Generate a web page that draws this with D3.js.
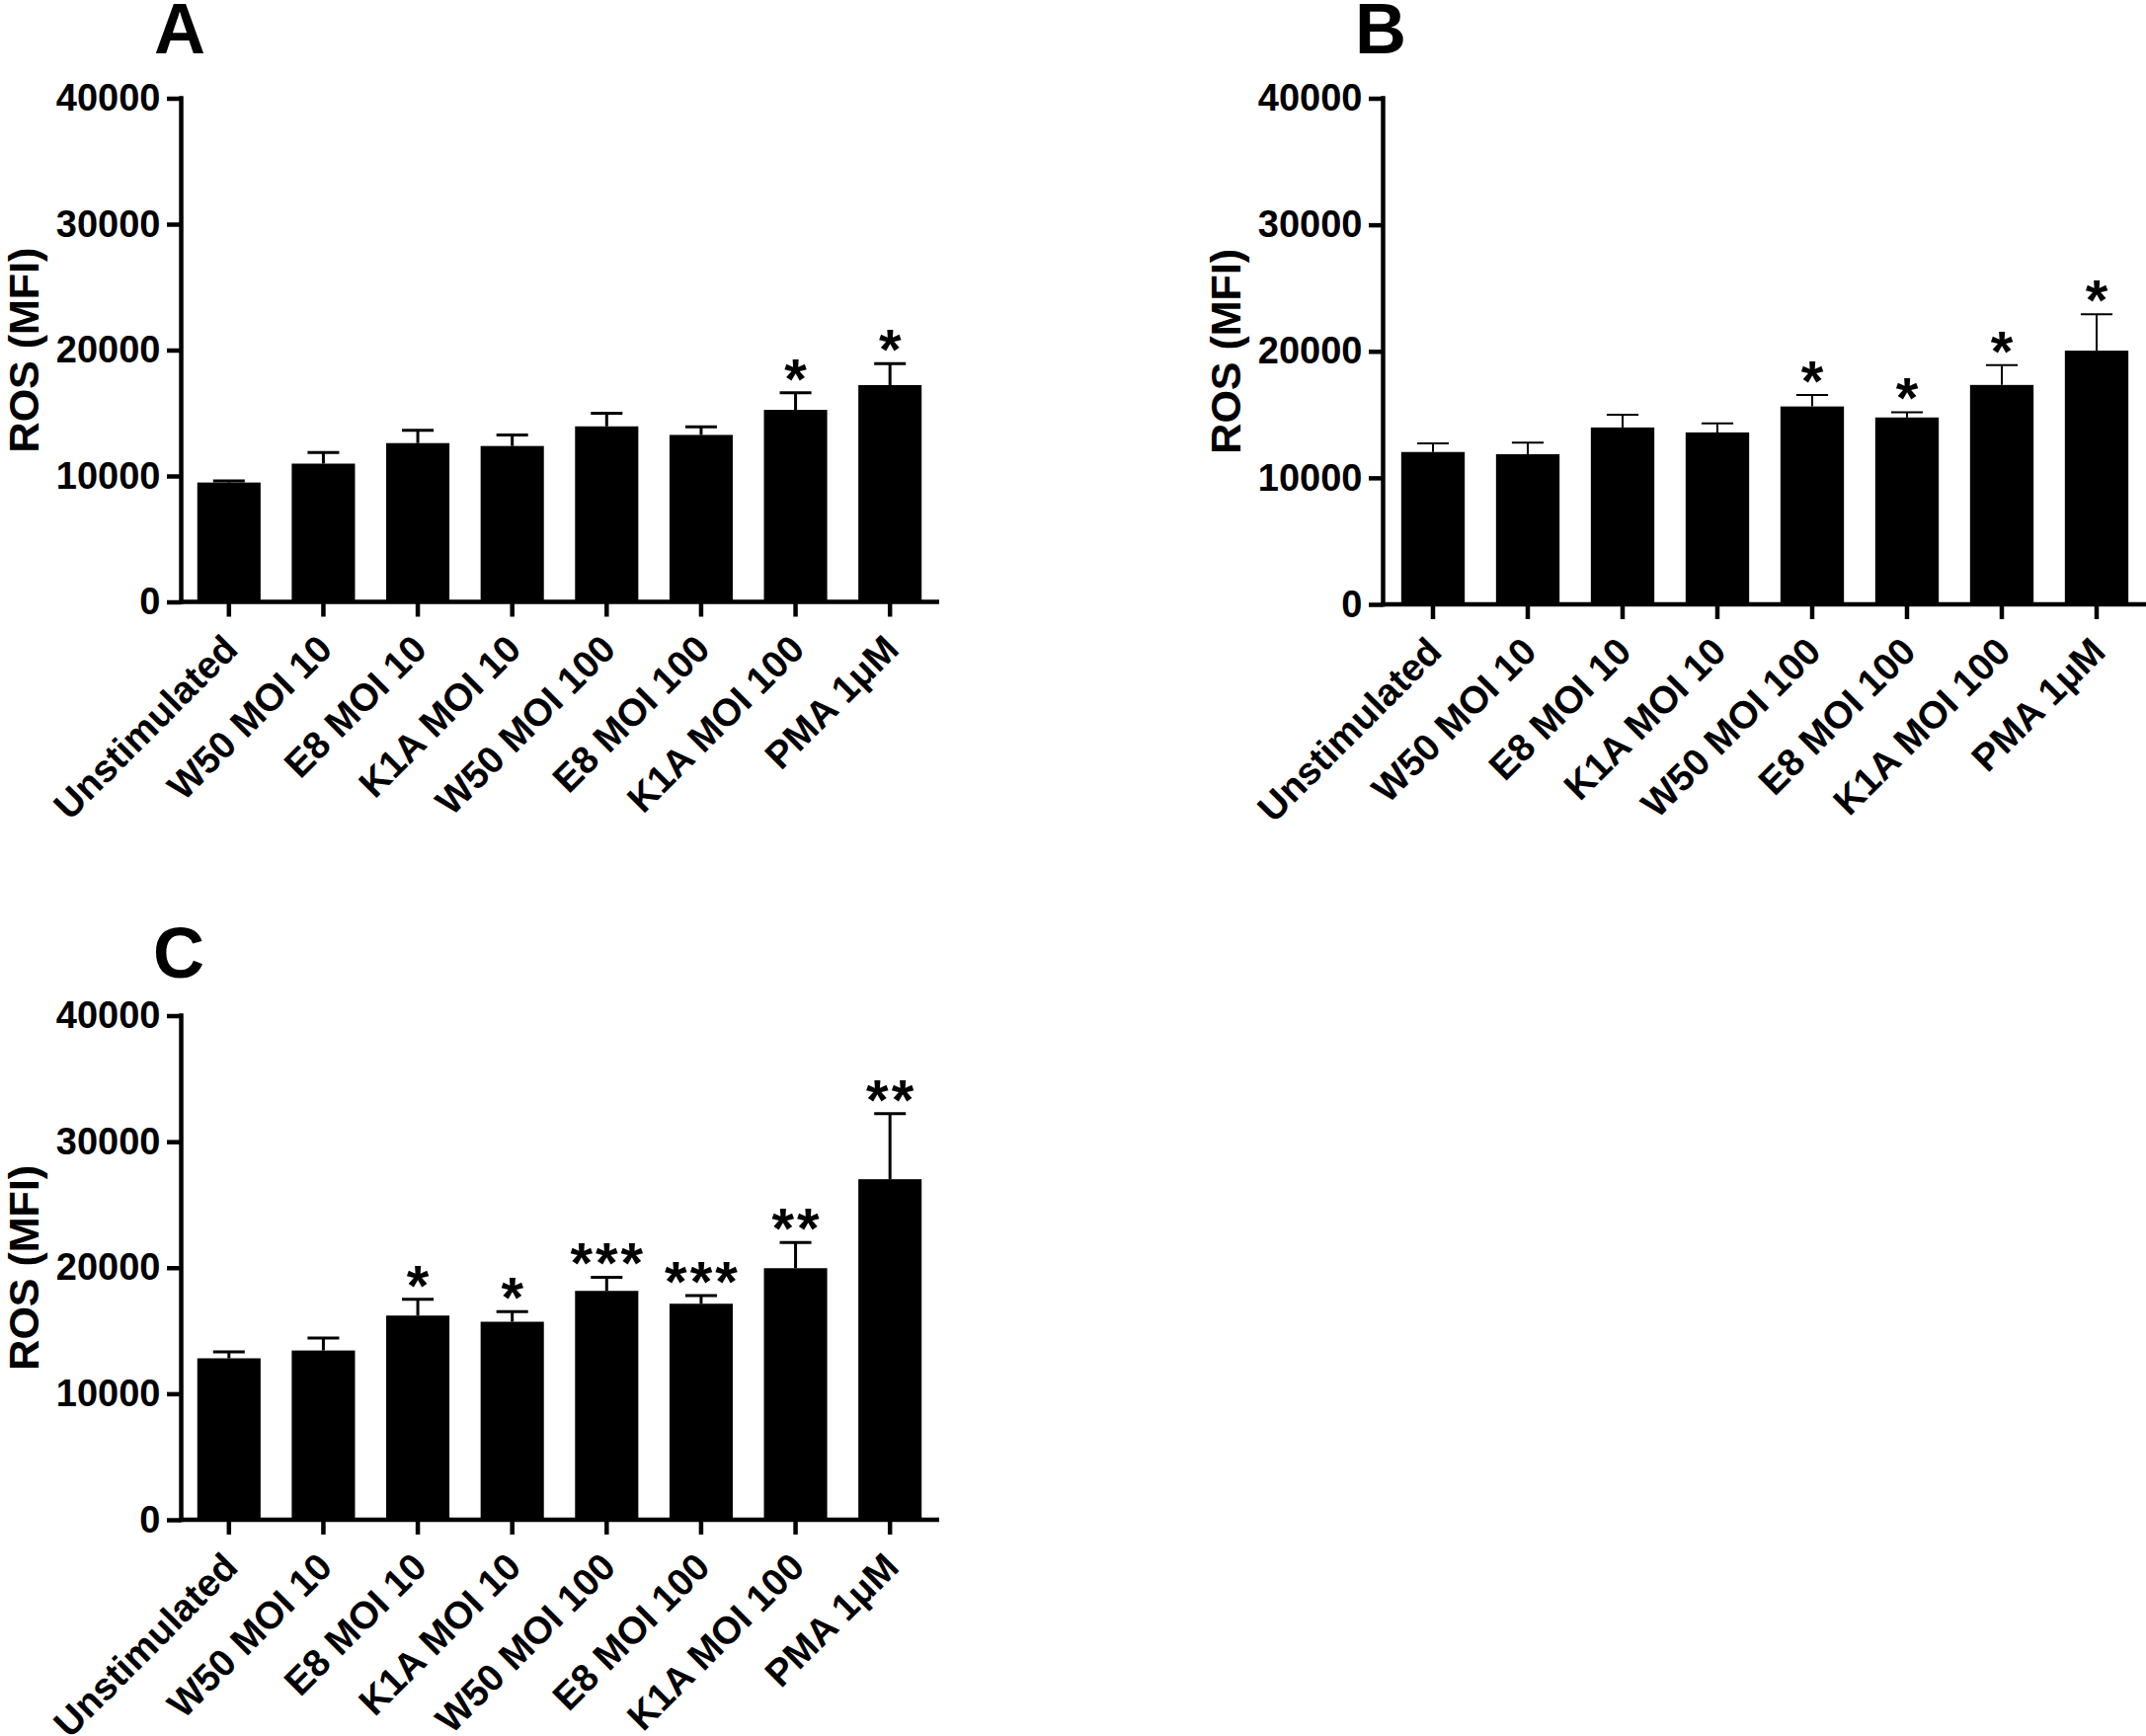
<!DOCTYPE html>
<html>
<head>
<meta charset="utf-8">
<script src="https://cdn.jsdelivr.net/npm/d3@7"></script>
<style>
  html, body { margin: 0; padding: 0; background: #ffffff; }
  svg { display: block; }
  text { font-family: "Liberation Sans", Arial, sans-serif; font-weight: bold; fill: #000; }
</style>
</head>
<body>
<svg id="chart" width="2173" height="1758"></svg>
<script>
// ---------------- DATA ----------------
const categories = ["Unstimulated", "W50 MOI 10", "E8 MOI 10", "K1A MOI 10",
                    "W50 MOI 100", "E8 MOI 100", "K1A MOI 100", "PMA 1\u03BCM"];
const yTicks = [0, 10000, 20000, 30000, 40000];
const yTitle = "ROS (MFI)";

const meanA = [9480, 10980, 12610, 12380, 13940, 13260, 15250, 17220];
const semA  = [130, 880, 1010, 880, 1040, 650, 1360, 1700];
const starsA = ["", "", "", "", "", "", "*", "*"];

const meanB = [12040, 11870, 13980, 13590, 15640, 14770, 17340, 20050];
const semB  = [680, 910, 1010, 720, 910, 410, 1560, 2880];
const starsB = ["", "", "", "", "*", "*", "*", "*"];

const meanC = [12810, 13430, 16200, 15710, 18160, 17140, 19960, 27020];
const semC  = [520, 980, 1300, 810, 1070, 650, 2040, 5200];
const starsC = ["", "", "*", "*", "***", "***", "**", "**"];

const panelLetters = ["A", "B", "C"];

// ---------------- LAYOUT ----------------
const panels = [
  { letter: panelLetters[0], mean: meanA, sem: semA, stars: starsA,
    axisX: 183.5, x0: 184, x1: 949, yTop: 99.5, yBot: 609.5, letterX: 182, letterY: 54, errW: 3 },
  { letter: panelLetters[1], mean: meanB, sem: semB, stars: starsB,
    axisX: 1400.5, x0: 1403, x1: 2171, yTop: 99.5, yBot: 612, letterX: 1398, letterY: 54, errW: 2 },
  { letter: panelLetters[2], mean: meanC, sem: semC, stars: starsC,
    axisX: 183.5, x0: 184, x1: 949, yTop: 1028.5, yBot: 1539, letterX: 181, letterY: 990, errW: 3 }
];

const svg = d3.select("#chart");
svg.append("rect").attr("width", 2173).attr("height", 1758).attr("fill", "#fff");

const AXIS_W = 4.5;
const STAR_FS = 58;

panels.forEach(p => {
  const g = svg.append("g");
  const x = d3.scaleBand().domain(categories).range([p.x0, p.x1])
              .paddingInner(0.33).paddingOuter(0.165);
  const y = d3.scaleLinear().domain([0, 40000]).range([p.yBot, p.yTop]);
  const bw = x.bandwidth();

  // Bars
  g.selectAll("rect.bar").data(categories).join("rect")
    .attr("class", "bar")
    .attr("x", c => x(c))
    .attr("width", bw)
    .attr("y", (c, i) => y(p.mean[i]))
    .attr("height", (c, i) => y(0) - y(p.mean[i]))
    .attr("fill", "#000");

  // Error bars (upper only)
  const eb = g.selectAll("g.err").data(categories).join("g").attr("class", "err");
  eb.append("line")
    .attr("x1", c => x(c) + bw / 2).attr("x2", c => x(c) + bw / 2)
    .attr("y1", (c, i) => y(p.mean[i]))
    .attr("y2", (c, i) => y(p.mean[i] + p.sem[i]))
    .attr("stroke", "#000").attr("stroke-width", p.errW);
  eb.append("line")
    .attr("x1", c => x(c) + bw / 4).attr("x2", c => x(c) + bw * 3 / 4)
    .attr("y1", (c, i) => y(p.mean[i] + p.sem[i]))
    .attr("y2", (c, i) => y(p.mean[i] + p.sem[i]))
    .attr("stroke", "#000").attr("stroke-width", p.errW);

  // Significance stars
  g.selectAll("text.star").data(categories).join("text")
    .attr("class", "star")
    .attr("x", c => x(c) + bw / 2 + 1.5)
    .attr("y", (c, i) => y(p.mean[i] + p.sem[i]) - 26 + STAR_FS * 0.55)
    .attr("text-anchor", "middle")
    .style("font-size", STAR_FS + "px")
    .style("letter-spacing", "3px")
    .text((c, i) => p.stars[i]);

  // Y axis
  const yAxis = d3.axisLeft(y).tickValues(yTicks).tickFormat(d3.format("d"))
                  .tickSize(14.5).tickSizeOuter(0).tickPadding(6.5);
  const ya = g.append("g").attr("transform", `translate(${p.axisX},0)`).call(yAxis);
  ya.attr("font-family", null).attr("font-size", null);
  ya.select(".domain").attr("stroke", "#000").attr("stroke-width", AXIS_W)
    .attr("d", `M0,${p.yTop - AXIS_W / 2}V${p.yBot + AXIS_W / 2}`);
  ya.selectAll(".tick line").attr("stroke", "#000").attr("stroke-width", AXIS_W);
  ya.selectAll(".tick text").style("font-size", "38px").attr("fill", "#000");

  // X axis
  const xAxis = d3.axisBottom(x).tickSize(15).tickSizeOuter(0);
  const xa = g.append("g").attr("transform", `translate(0,${p.yBot})`).call(xAxis);
  xa.attr("font-family", null).attr("font-size", null);
  xa.select(".domain").attr("stroke", "#000").attr("stroke-width", AXIS_W)
    .attr("d", `M${p.axisX - AXIS_W / 2},0H${p.x1 + 2}`);
  xa.selectAll(".tick line").attr("stroke", "#000").attr("stroke-width", AXIS_W);
  xa.selectAll(".tick text")
    .attr("y", null).attr("dy", null)
    .attr("transform", "translate(11,50) rotate(-45)")
    .attr("text-anchor", "end")
    .attr("fill", "#000")
    .style("font-size", "38.5px");

  // Y title
  g.append("text")
    .attr("transform", `translate(${p.axisX - 145},${(p.yTop + p.yBot) / 2}) rotate(-90)`)
    .attr("text-anchor", "middle")
    .style("font-size", "43px")
    .text(yTitle);

  // Panel letter
  g.append("text")
    .attr("x", p.letterX).attr("y", p.letterY)
    .attr("text-anchor", "middle")
    .style("font-size", "72px")
    .text(p.letter);
});
</script>
</body>
</html>
